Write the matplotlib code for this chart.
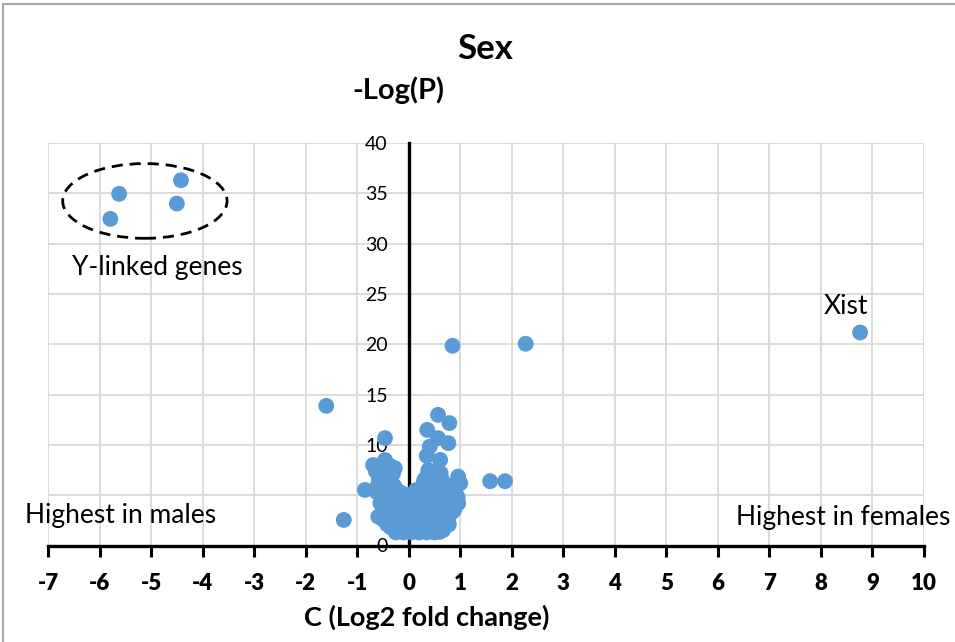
import matplotlib
matplotlib.use("Agg")
import matplotlib.pyplot as plt
from matplotlib.patches import Ellipse, Rectangle

plt.rcParams['font.family'] = ['Lato', 'DejaVu Sans']

# ---- data ----
ylinked_lfc = [-5.62, -5.79, -4.42, -4.50]
ylinked_logp = [34.95, 32.46, 36.30, 33.98]

xist_lfc = [8.76]
xist_logp = [21.17]

outlier_lfc = [0.85, 2.27, -1.60, -1.26, 1.58, 1.87, -0.85, -0.46, 0.57, 0.79, 0.36,
               0.77, 0.57, 0.41, 0.35, 0.61, -0.27, 0.96, 0.67, -0.59]
outlier_logp = [19.85, 20.05, 13.88, 2.54, 6.39, 6.39, 5.52, 10.67, 12.98, 12.16, 11.49,
                10.17, 10.67, 9.83, 8.91, 8.51, 7.68, 4.20, 1.54, 2.87]

cluster_lfc = [
    -0.25, -0.10, 0.05, 0.20, 0.35, 0.50, 0.60,
    -0.35, -0.20, -0.05, 0.10, 0.25, 0.40, 0.55,
    -0.50, -0.35, -0.20, -0.05, 0.10, 0.25, 0.40, 0.55, 0.70,
    -0.52, -0.37, -0.22, -0.07, 0.08, 0.23, 0.38, 0.53, 0.68, 0.82,
    -0.50, -0.35, -0.20, -0.05, 0.10, 0.25, 0.40, 0.55, 0.70, 0.85,
    -0.52, -0.37, -0.22, -0.07, 0.12, 0.27, 0.42, 0.57, 0.72, 0.87, 0.95,
    -0.62, -0.47, -0.32, -0.17, 0.20, 0.35, 0.50, 0.65, 0.80,
    -0.60, -0.45, -0.30, 0.28, 0.43, 0.58, 0.75, 1.00,
    -0.58, -0.43, 0.33, 0.48, 0.63, 0.96,
    -0.64, -0.50, -0.30, 0.38, 0.55,
    -0.69, -0.46,
    -0.10, 0.06, -0.02, 0.14, -0.28, -0.40, 0.30, 0.45, 0.62, 0.78,
    -0.42, -0.27, -0.12, 0.03, 0.18, 0.33, 0.48, 0.63, 0.78,
    -0.55, -0.38, 0.40, 0.52, 0.68, 0.88,
    -0.58, -0.36, -0.52, 0.50, 0.70, 0.90, -0.15, 0.25,
]
cluster_logp = [
    1.3, 1.3, 1.3, 1.3, 1.3, 1.3, 1.35,
    1.8, 1.8, 1.8, 1.8, 1.8, 1.8, 1.8,
    2.6, 2.5, 2.5, 2.5, 2.5, 2.5, 2.5, 2.5, 2.6,
    3.2, 3.2, 3.2, 3.2, 3.2, 3.2, 3.2, 3.2, 3.2, 3.2,
    3.9, 3.9, 3.9, 3.9, 3.9, 3.9, 3.9, 3.9, 3.9, 3.9,
    4.6, 4.6, 4.6, 4.6, 4.6, 4.6, 4.6, 4.6, 4.6, 4.6, 4.8,
    5.3, 5.3, 5.3, 5.3, 5.3, 5.3, 5.3, 5.3, 5.3,
    6.0, 6.0, 6.0, 6.0, 6.0, 6.0, 6.0, 6.19,
    6.7, 6.7, 6.7, 6.7, 6.7, 6.85,
    7.4, 7.4, 7.2, 7.5, 7.4,
    8.0, 8.5,
    5.1, 5.1, 4.3, 5.5, 5.9, 6.4, 6.5, 7.0, 7.2, 5.8,
    2.1, 2.1, 2.1, 2.1, 2.1, 2.1, 2.1, 2.1, 2.1,
    4.2, 4.2, 4.2, 3.5, 3.6, 3.5,
    7.8, 7.9, 6.9, 5.9, 5.0, 5.5, 4.5, 4.2,
]

x_ticks = list(range(-7, 11))
x_tick_labels = ['-7', '-6', '-5', '-4', '-3', '-2', '-1', '0', '1', '2', '3',
                 '4', '5', '6', '7', '8', '9', '10']
y_ticks = [0, 5, 10, 15, 20, 25, 30, 35, 40]

blue = '#5B9BD5'

fig = plt.figure(figsize=(9.55, 6.42), dpi=100)
ax = fig.add_axes([48 / 955, 1 - 545.5 / 642, 876 / 955, (545.5 - 143) / 642])

# figure border
fig.patches.append(Rectangle((3 / 955, -0.05), 1.05, 1 - 4 / 642 + 0.05, transform=fig.transFigure,
                             fill=False, edgecolor='#a6a6a6', lw=1.5))

ax.set_xlim(-7, 10)
ax.set_ylim(0, 40)
ax.set_yticks(y_ticks)
ax.grid(True, color='#d9d9d9', lw=1.3, zorder=0)
ax.set_axisbelow(True)

for s in ['top', 'right']:
    ax.spines[s].set_visible(False)
ax.spines['left'].set_position(('data', 0))
ax.spines['left'].set_linewidth(2.4)
ax.spines['bottom'].set_linewidth(2.4)

ax.tick_params(axis='x', direction='out', length=8, width=2.2, pad=12)
ax.tick_params(axis='y', length=0, pad=15, labelsize=14)
ax.set_xticks(x_ticks, labels=x_tick_labels, fontsize=16, fontweight='heavy')

all_lfc = cluster_lfc + outlier_lfc + ylinked_lfc + xist_lfc
all_logp = cluster_logp + outlier_logp + ylinked_logp + xist_logp
ax.scatter(all_lfc, all_logp, s=130, color=blue, edgecolors='none', zorder=3, clip_on=False)

ax.add_patch(Ellipse((-5.12, 34.24), 3.19, 7.43, fill=False, edgecolor='black',
                     lw=2.0, ls=(0, (4, 2.5)), zorder=4))

ax.text(-6.53, 27.6, 'Y-linked genes', ha='left', va='center', fontsize=19)
ax.text(-7.45, 2.94, 'Highest in males', ha='left', va='center', fontsize=19, clip_on=False)
ax.text(10.52, 2.74, 'Highest in females', ha='right', va='center', fontsize=19, clip_on=False)
ax.text(8.49, 23.8, 'Xist', ha='center', va='center', fontsize=19)

fig.text(485 / 955, 1 - 49 / 642, 'Sex', ha='center', va='center', fontsize=25, fontweight='bold')
fig.text(398 / 955, 1 - 90 / 642, '-Log(P)', ha='center', va='center', fontsize=21, fontweight='bold')
fig.text(427 / 955, 1 - 617 / 642, 'C (Log2 fold change)', ha='center', va='center', fontsize=19.5,
         fontweight='bold')

fig.savefig('out.png', dpi=100)
